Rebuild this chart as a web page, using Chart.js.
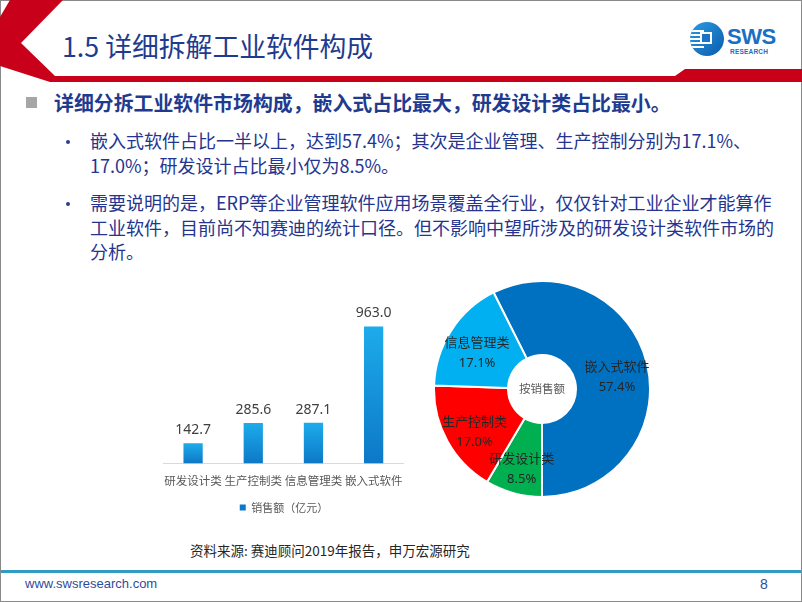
<!DOCTYPE html>
<html>
<head>
<meta charset="utf-8">
<script src="https://cdn.jsdelivr.net/npm/chart.js@4.4.1/dist/chart.umd.min.js"></script>
<style>
  html, body { margin: 0; padding: 0; background: #fff; }
  body { width: 802px; height: 602px; position: relative; overflow: hidden;
         font-family: "Noto Sans CJK SC", "Noto Sans", sans-serif; }
  .frame { position: absolute; left: 0; top: 0; width: 802px; height: 602px;
           box-sizing: border-box; border: 1px solid #8a8a8a; }
  .deco { position: absolute; left: 0; top: 0; }
  .title { position: absolute; left: 62px; top: 30px; font-size: 26.8px; line-height: 32px;
           color: #1f3b8f; white-space: nowrap; }
  .logo-circle { position: absolute; left: 690px; top: 22px; width: 34px; height: 34px; border-radius: 50%;
                 background: linear-gradient(135deg, #2b9be0, #0a5cae); overflow: hidden; }
  .logo-stripe { position: absolute; left: 0; width: 14px; height: 2px; background: #fff; }
  .logo-box { position: absolute; left: 10px; top: 10px; width: 12px; height: 12px; background: #fff; }
  .logo-box div { position: absolute; left: 2px; top: 2px; width: 8px; height: 8px; background: #1a73c7; }
  .logo-sws { position: absolute; left: 727px; top: 25px; font-family: "Liberation Sans", Arial, sans-serif;
              font-weight: bold; font-size: 22px; line-height: 24px; color: #1a6fc4; letter-spacing: -0.5px; }
  .logo-res { position: absolute; left: 730px; top: 48px; font-family: "Liberation Sans", Arial, sans-serif;
              font-weight: bold; font-size: 6.5px; line-height: 7px; color: #1a6fc4; letter-spacing: 0.2px; }
  .sq { position: absolute; left: 26px; top: 97px; width: 11px; height: 11px; background: #a6a6a6; }
  .head { position: absolute; left: 54px; top: 90px; font-size: 19.9px; line-height: 26px; font-weight: bold;
          color: #1f3b8f; white-space: nowrap; }
  .dot { position: absolute; left: 66px; width: 4px; height: 4px; border-radius: 50%; background: #2e3b8f; }
  .para { position: absolute; left: 90px; font-size: 18px; line-height: 25px; color: #25358f; white-space: nowrap; }
  .src { position: absolute; left: 190px; top: 540px; font-size: 13.5px; line-height: 20px; color: #262626; white-space: nowrap; }
  .rule { position: absolute; left: 1px; top: 570px; width: 800px; height: 3px; background: #2f9cc6; }
  .url { position: absolute; left: 25px; top: 575px; font-family: "Liberation Sans", Arial, sans-serif;
         font-size: 13px; line-height: 18px; color: #2e4c9c; }
  .page { position: absolute; left: 760px; top: 575px; font-family: "Liberation Sans", Arial, sans-serif;
          font-size: 14px; line-height: 18px; color: #2e4c9c; }
  #barBox { position: absolute; left: 150px; top: 290px; width: 264px; height: 233px; }
  #pie { position: absolute; left: 433px; top: 280px; }
</style>
</head>
<body>
<div class="frame"></div>
<svg class="deco" width="802" height="90">
  <polygon fill="#c8001a" points="10,0 63,0 21,43 55,76 675,76 685,69 802,69 802,82 50,82 0,66 0,17"/>
</svg>
<div class="title">1.5 详细拆解工业软件构成</div>

<div class="logo-circle">
  <div class="logo-stripe" style="top:8px"></div>
  <div class="logo-stripe" style="top:12px"></div>
  <div class="logo-stripe" style="top:16px"></div>
  <div class="logo-stripe" style="top:20px"></div>
  <div class="logo-stripe" style="top:24px"></div>
  <div class="logo-box"><div></div></div>
</div>
<div class="logo-sws">SWS</div>
<div class="logo-res">RESEARCH</div>

<div class="sq"></div>
<div class="head">详细分拆工业软件市场构成，嵌入式占比最大，研发设计类占比最小。</div>

<div class="dot" style="top:140px"></div>
<div class="para" style="top:128px">嵌入式软件占比一半以上，达到57.4%；其次是企业管理、生产控制分别为17.1%、<br>17.0%；研发设计占比最小仅为8.5%。</div>
<div class="dot" style="top:202px"></div>
<div class="para" style="top:190px; line-height:24.5px">需要说明的是，ERP等企业管理软件应用场景覆盖全行业，仅仅针对工业企业才能算作<br>工业软件，目前尚不知赛迪的统计口径。但不影响中望所涉及的研发设计类软件市场的<br>分析。</div>

<div id="barBox"><canvas id="bar"></canvas></div>
<canvas id="pie" width="218" height="218"></canvas>

<div class="src">资料来源: 赛迪顾问2019年报告，申万宏源研究</div>
<div class="rule"></div>
<div class="url">www.swsresearch.com</div>
<div class="page">8</div>

<script>
// bar chart data (亿元)
const categories = ['研发设计类', '生产控制类', '信息管理类', '嵌入式软件'];
const sales = [142.7, 285.6, 287.1, 963.0];
const seriesName = '销售额（亿元）';

// doughnut data (share of sales, %)
const pieNames = ['嵌入式软件', '研发设计类', '生产控制类', '信息管理类'];
const shares = [57.4, 8.5, 17.0, 17.1];
const pieColors = ['#0070c0', '#00b050', '#ff0000', '#00b0f0'];
const centreText = '按销售额';

//value labels above the bars
const barLabels = {
    id: 'barLabels',
    afterDatasetsDraw(chart) {
        const ctx = chart.ctx;
        const meta = chart.getDatasetMeta(0);
        ctx.save();
        ctx.font = '14px "Noto Sans", sans-serif';
        ctx.fillStyle = '#404040';
        ctx.textAlign = 'center';
        ctx.textBaseline = 'middle';
        meta.data.forEach((bar, i) => {
            ctx.fillText(sales[i].toFixed(1), bar.x, bar.y - 13);
        });
        ctx.restore();
    }
};

function barGradient(context) {
    const chart = context.chart;
    const yScale = chart.scales.y;
    if (!yScale || context.dataIndex === undefined) return '#13a5e6';
    const top = yScale.getPixelForValue(sales[context.dataIndex]);
    const base = yScale.getPixelForValue(0);
    if (!isFinite(top) || !isFinite(base) || top === base) return '#13a5e6';
    const g = chart.ctx.createLinearGradient(0, top, 0, base);
    g.addColorStop(0, '#1dabeb');
    g.addColorStop(1, '#0d78c7');
    return g;
}

new Chart('bar', {
    type: 'bar',
    data: {
        labels: categories,
        datasets: [{
            label: seriesName,
            data: sales,
            backgroundColor: barGradient,
            barPercentage: 0.32,
            categoryPercentage: 1
        }]
    },
    options: {
        responsive: true,
        maintainAspectRatio: false,
        animation: false,
        layout: { padding: { left: 13, right: 9, top: 17, bottom: 0 } },
        scales: {
            x: {
                grid: { display: false, drawTicks: false },
                border: { display: true, color: '#d9d9d9', width: 1 },
                ticks: {
                    color: '#595959',
                    font: { size: 11.5, family: '"Noto Sans CJK SC"' },
                    padding: 10.5,
                    autoSkip: false,
                    maxRotation: 0,
                    minRotation: 0
                }
            },
            y: {
                display: false,
                min: 0,
                max: 1100
            }
        },
        plugins: {
            legend: {
                position: 'bottom',
                labels: {
                    boxWidth: 6,
                    boxHeight: 6,
                    padding: 3.6,
                    color: '#595959',
                    font: { size: 11, family: '"Noto Sans CJK SC"' }
                }
            },
            tooltip: { enabled: false }
        }
    },
    plugins: [barLabels]
});

//slice names, percentages and centre caption
const pieLabels = {
    id: 'pieLabels',
    afterDatasetsDraw(chart) {
        const ctx = chart.ctx;
        const meta = chart.getDatasetMeta(0);
        ctx.save();
        ctx.textAlign = 'center';
        ctx.textBaseline = 'middle';
        meta.data.forEach((arc, i) => {
            const mid = (arc.startAngle + arc.endAngle) / 2;
            const r = (arc.innerRadius + arc.outerRadius) / 2 + 6;
            const x = arc.x + Math.cos(mid) * r;
            const y = arc.y + Math.sin(mid) * r + 5;
            ctx.fillStyle = '#262626';
            ctx.font = '13px "Noto Sans CJK SC"';
            ctx.fillText(pieNames[i], x, y - 10);
            ctx.font = '13px "Noto Sans", sans-serif';
            ctx.fillText(shares[i].toFixed(1) + '%', x, y + 11);
        });
        const c = meta.data[0];
        ctx.fillStyle = '#595959';
        ctx.font = '11.5px "Noto Sans CJK SC"';
        ctx.fillText(centreText, c.x, c.y);
        ctx.restore();
    }
};

new Chart('pie', {
    type: 'doughnut',
    data: {
        labels: pieNames,
        datasets: [{
            data: shares,
            backgroundColor: pieColors,
            borderColor: '#ffffff',
            borderWidth: 2
        }]
    },
    options: {
        responsive: false,
        animation: false,
        cutout: 34,
        rotation: 180 - shares[0] * 3.6,
        plugins: {
            legend: { display: false },
            tooltip: { enabled: false }
        }
    },
    plugins: [pieLabels]
});
</script>
</body>
</html>
